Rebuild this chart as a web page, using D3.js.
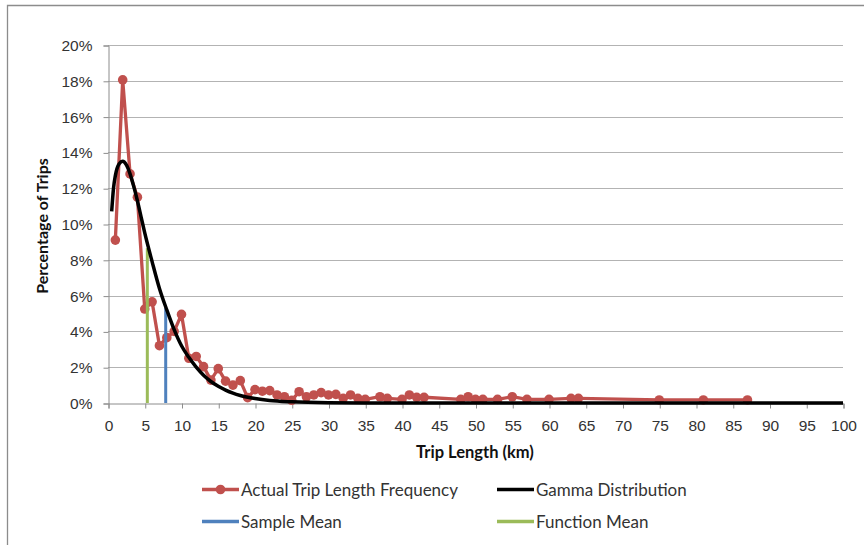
<!DOCTYPE html>
<html>
<head>
<meta charset="utf-8">
<script src="https://cdn.jsdelivr.net/npm/d3@7"></script>
<style>
  html, body { margin: 0; padding: 0; background: #fff; }
  svg { display: block; font-family: Lato, "Open Sans", "Liberation Sans", sans-serif; }
</style>
</head>
<body>
<svg id="chart" width="864" height="545"></svg>
<script>
// ---- Data ----
const actualKm = [1,2,3,4,5,6,7,8,9,10,11,12,13,14,15,16,17,18,19,20,21,22,23,24,25,26,27,28,29,30,31,32,33,34,35,37,38,40,41,42,43,48,49,50,51,53,55,57,60,63,64,75,81,87];
const actualPct = [9.1,18.05,12.8,11.5,5.25,5.65,3.2,3.65,4.0,4.95,2.5,2.6,2.03,1.28,1.92,1.22,1.0,1.25,0.3,0.75,0.66,0.69,0.45,0.35,0.15,0.63,0.35,0.45,0.58,0.45,0.48,0.26,0.45,0.26,0.2,0.35,0.26,0.2,0.45,0.32,0.32,0.2,0.35,0.2,0.2,0.2,0.35,0.2,0.2,0.26,0.26,0.17,0.17,0.17];

const gammaKm  = [0.5,0.75,1,1.5,2,2.5,3,3.5,4,4.5,5,6,7,8,9,10,11,12,13,14,15,16,17,18,20,22,25,30,35,40,50,100];
const gammaPct = [10.7,12.0,12.7,13.35,13.5,13.3,12.8,12.1,11.3,10.4,9.5,7.9,6.4,5.2,4.1,3.2,2.55,2.0,1.55,1.2,0.93,0.72,0.55,0.42,0.25,0.14,0.065,0.015,0.004,0.001,0,0];

const sampleMean = { km: 7.85, pct: 5.3 };
const functionMean = { km: 5.35, pct: 8.65 };

const xTicks = d3.range(0, 101, 5);
const yTicks = [0,2,4,6,8,10,12,14,16,18,20];

const legendItems = [
  { label: "Actual Trip Length Frequency", color: "#C0504D", marker: true },
  { label: "Gamma Distribution", color: "#000000", marker: false },
  { label: "Sample Mean", color: "#4F81BD", marker: false },
  { label: "Function Mean", color: "#9BBB59", marker: false }
];

// ---- Chart ----
const svg = d3.select("#chart");
const x = d3.scaleLinear().domain([0, 100]).range([108, 843]);
const y = d3.scaleLinear().domain([0, 20]).range([403, 45]);

// outer frame (left & top visible)
svg.append("path").attr("d", "M7.5,545 L7.5,5.5 L864,5.5")
  .attr("fill", "none").attr("stroke", "#8c8c8c").attr("stroke-width", 1.3);

// horizontal gridlines
svg.append("g").selectAll("line").data(yTicks.filter(d => d > 0)).join("line")
  .attr("x1", x(0)).attr("x2", x(100))
  .attr("y1", d => Math.round(y(d)) + 0.5).attr("y2", d => Math.round(y(d)) + 0.5)
  .attr("stroke", "#b3b3b3").attr("stroke-width", 1);

// y axis
const yAxis = d3.axisLeft(y).tickValues(yTicks).tickFormat(d => d + "%").tickSize(5).tickPadding(11);
const gy = svg.append("g").attr("transform", `translate(${x(0) + 0.5},0.5)`).call(yAxis);
gy.select(".domain").attr("stroke", "#8c8c8c");
gy.selectAll(".tick line").attr("stroke", "#8c8c8c");
gy.selectAll(".tick text").attr("font-size", 15.5).attr("fill", "#333").attr("font-family", "inherit");

// x axis
const xAxis = d3.axisBottom(x).tickValues(xTicks).tickFormat(d3.format("d")).tickSize(5).tickPadding(11);
const gx = svg.append("g").attr("transform", `translate(0.5,${y(0) + 0.5})`).call(xAxis);
gx.select(".domain").attr("stroke", "#8c8c8c");
gx.selectAll(".tick line").attr("stroke", "#8c8c8c");
gx.selectAll(".tick text").attr("font-size", 15.5).attr("fill", "#333").attr("font-family", "inherit");

// axis titles
svg.append("text").attr("x", 475).attr("y", 458).attr("text-anchor", "middle")
  .attr("font-size", 16.5).attr("font-weight", "bold").attr("fill", "#111").text("Trip Length (km)");
svg.append("text").attr("transform", `translate(48,${y(10) + 2}) rotate(-90)`).attr("text-anchor", "middle")
  .attr("font-size", 16).attr("font-weight", "bold").attr("fill", "#111").text("Percentage of Trips");

// actual series
const actual = actualKm.map((k, i) => ({ k, v: actualPct[i] }));
const lineGen = d3.line().x(d => x(d.k)).y(d => y(d.v));
svg.append("path").datum(actual).attr("d", lineGen)
  .attr("fill", "none").attr("stroke", "#C0504D").attr("stroke-width", 3.3).attr("stroke-linejoin", "round");
svg.append("g").selectAll("circle").data(actual).join("circle")
  .attr("cx", d => x(d.k)).attr("cy", d => y(d.v)).attr("r", 4.8).attr("fill", "#C0504D");

// mean lines
svg.append("line").attr("x1", x(functionMean.km)).attr("x2", x(functionMean.km))
  .attr("y1", y(0)).attr("y2", y(functionMean.pct)).attr("stroke", "#9BBB59").attr("stroke-width", 3);
svg.append("line").attr("x1", x(sampleMean.km)).attr("x2", x(sampleMean.km))
  .attr("y1", y(0)).attr("y2", y(sampleMean.pct)).attr("stroke", "#4F81BD").attr("stroke-width", 3);

// gamma curve
const gamma = gammaKm.map((k, i) => ({ k, v: gammaPct[i] }));
svg.append("path").datum(gamma).attr("d", d3.line().x(d => x(d.k)).y(d => y(d.v)).curve(d3.curveMonotoneX))
  .attr("fill", "none").attr("stroke", "#000").attr("stroke-width", 3.5).attr("stroke-linejoin", "round");

// legend
const legendPos = [[202, 489.5], [497, 489.5], [202, 521.5], [497, 521.5]];
const lg = svg.append("g").selectAll("g").data(legendItems).join("g")
  .attr("transform", (d, i) => `translate(${legendPos[i][0]},${legendPos[i][1]})`);
lg.append("line").attr("x1", 0).attr("x2", 37).attr("y1", 0).attr("y2", 0)
  .attr("stroke", d => d.color).attr("stroke-width", 3.3);
lg.filter(d => d.marker).append("circle").attr("cx", 18.5).attr("cy", 0).attr("r", 4.8).attr("fill", d => d.color);
lg.append("text").attr("x", 39).attr("y", 6).attr("font-size", 17).attr("fill", "#333").text(d => d.label);
</script>
</body>
</html>
